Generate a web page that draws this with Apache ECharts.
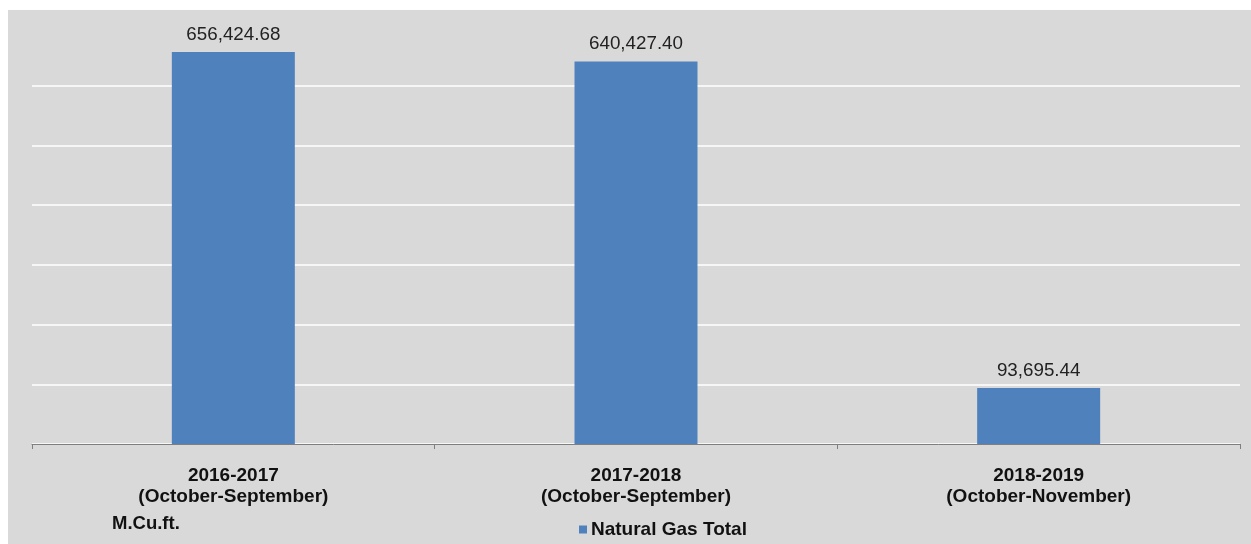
<!DOCTYPE html>
<html><head><meta charset="utf-8">
<script src="https://cdn.jsdelivr.net/npm/echarts@6/dist/echarts.min.js"></script>
<style>html,body{margin:0;padding:0;background:#fff}#c{width:1251px;height:544px}</style>
</head><body><div id="c"></div>
<script>
const categories = ['2016-2017\n(October-September)', '2017-2018\n(October-September)', '2018-2019\n(October-November)'];
const naturalGasTotal = [656424.68, 640427.40, 93695.44];
const seriesName = 'Natural Gas Total';
const unitLabel = 'M.Cu.ft.';

const fmt = v => v.toLocaleString('en-US', {minimumFractionDigits: 2, maximumFractionDigits: 2});
const FONT = 'Liberation Sans, Arial, sans-serif';

const chart = echarts.init(document.getElementById('c'));
chart.setOption({
  animation: false,
  textStyle: {fontFamily: FONT},
  graphic: [{type: 'rect', z: -10, shape: {x: 8, y: 10, width: 1243, height: 534}, style: {fill: '#d9d9d9'}}],
  title: {text: unitLabel, left: 112, top: 514, padding: 0, textStyle: {fontSize: 18.5, fontWeight: 'bold', color: '#111', fontFamily: FONT}},
  legend: {
    data: [seriesName], left: 574, top: 515, itemWidth: 8, itemHeight: 8, itemGap: 4,
    icon: 'rect',
    textStyle: {fontSize: 19, fontWeight: 'bold', color: '#111', fontFamily: FONT, padding: [0,0,0,-1]}
  },
  grid: {left: 32, right: 11, top: 26, bottom: 100},
  xAxis: {
    type: 'category', data: categories,
    axisLine: {lineStyle: {color: '#7f7f7f', width: 1}},
    axisTick: {show: true, length: 5, lineStyle: {color: '#7f7f7f'}},
    axisLabel: {fontSize: 19, fontWeight: 'bold', color: '#111', lineHeight: 21, margin: 21, fontFamily: FONT}
  },
  yAxis: {
    type: 'value', min: 0, max: 700000, interval: 100000,
    axisLabel: {show: false}, axisLine: {show: false}, axisTick: {show: false},
    splitLine: {show: true, showMaxLine: false, lineStyle: {color: '#ffffff', width: 1.5}}
  },
  series: [{
    name: seriesName, type: 'bar', data: naturalGasTotal, barWidth: 123,
    itemStyle: {color: '#4f81bd'},
    label: {show: true, position: 'top', distance: 8, fontSize: 18.8, color: '#222', fontFamily: FONT, formatter: p => fmt(p.value)}
  }]
});
</script></body></html>
